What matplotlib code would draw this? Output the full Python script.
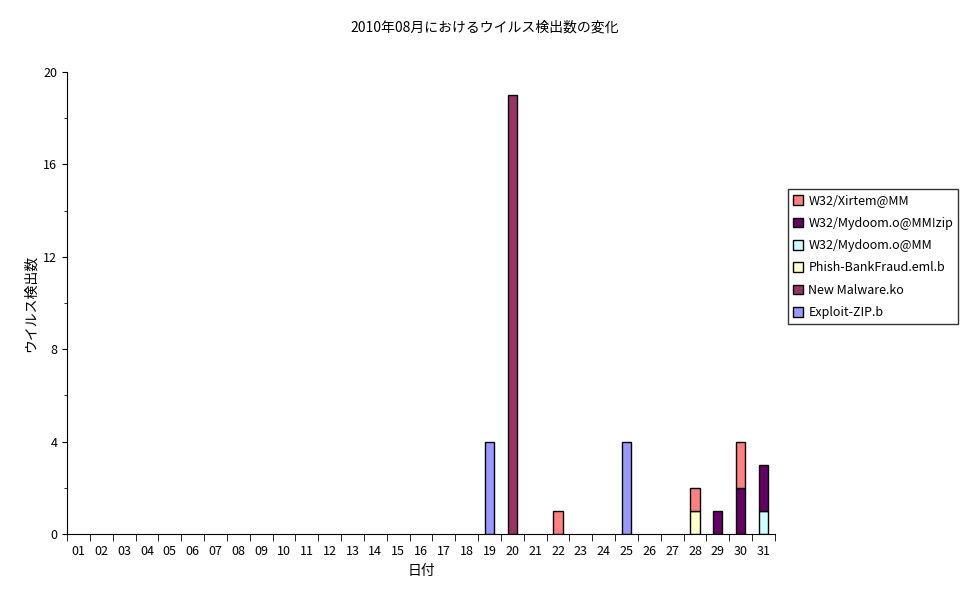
import matplotlib
matplotlib.use("Agg")
import matplotlib.pyplot as plt
import numpy as np

plt.rcParams['font.family'] = ['Noto Sans CJK JP', 'DejaVu Sans']

days = [f"{d:02d}" for d in range(1, 32)]
series_names = ["Exploit-ZIP.b", "New Malware.ko", "Phish-BankFraud.eml.b",
                "W32/Mydoom.o@MM", "W32/Mydoom.o@MM!zip", "W32/Xirtem@MM"]
exploit = {19: 4, 25: 4}
newmal = {20: 19}
phish = {28: 1}
mydoom = {31: 1}
mydoomzip = {29: 1, 30: 2, 31: 2}
xirtem = {22: 1, 28: 1, 30: 2}
colors = ["#9999FF", "#993366", "#FFFFCC", "#CCFFFF", "#660066", "#FF8080"]

data = [exploit, newmal, phish, mydoom, mydoomzip, xirtem]

fig = plt.figure(figsize=(9.7, 6.04), dpi=100)
ax = fig.add_axes([67/970, 1-534/604, (775-67)/970, (534-72)/604])
x = np.arange(31)
bottom = np.zeros(31)
handles = []
for name, d, c in zip(series_names, data, colors):
    vals = np.array([d.get(i + 1, 0) for i in range(31)], float)
    nz = vals > 0
    b = ax.bar(x[nz], vals[nz], width=0.4, bottom=bottom[nz], color=c, edgecolor='black', linewidth=1, label=name)
    handles.append(b)
    bottom += vals
ax.set_xlim(-0.5, 30.5)
ax.set_ylim(0, 20)
ax.set_yticks([0, 4, 8, 12, 16, 20])
ax.set_yticks(np.arange(0, 21, 2), minor=True)
ax.set_xticks(x)
ax.set_xticklabels(days, fontsize=9)
ax.set_xticks(np.arange(-0.5, 31, 1), minor=True)
ax.tick_params(axis='x', which='major', length=0, pad=8)
ax.tick_params(axis='x', which='minor', length=5, direction='out')
ax.tick_params(axis='y', labelsize=9)
for s in ['top', 'right']:
    ax.spines[s].set_visible(False)
ax.set_xlabel("日付", fontsize=10)
ax.set_ylabel("ウイルス検出数", fontsize=10)
fig.text(0.5, 1-28/604, "2010年08月におけるウイルス検出数の変化", ha='center', va='center', fontsize=10)
leg = ax.legend(handles[::-1], series_names[::-1], loc='center left', bbox_to_anchor=(1.01, 0.6),
                fontsize=9, frameon=True, fancybox=False, edgecolor='black',
                handlelength=0.8, handleheight=0.8, borderpad=0.4, labelspacing=0.75, handletextpad=0.4)
leg.get_frame().set_linewidth(1)
fig.savefig("out.png", dpi=100)
